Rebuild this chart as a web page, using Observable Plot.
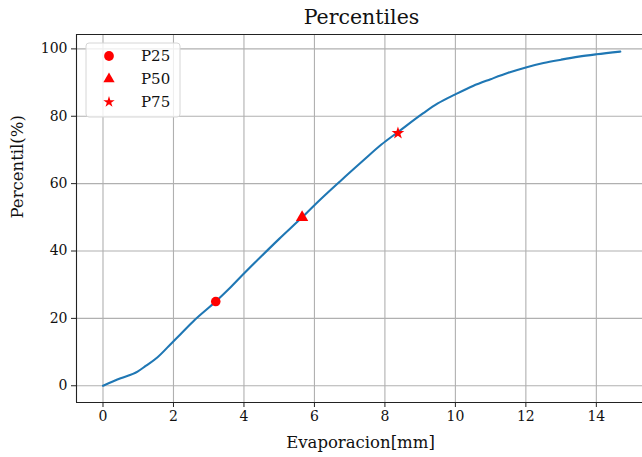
<!DOCTYPE html>
<html>
<head>
<meta charset="utf-8">
<script src="https://cdn.jsdelivr.net/npm/d3@7"></script>
<script src="https://cdn.jsdelivr.net/npm/@observablehq/plot@0.6"></script>
<style>
  html, body { margin: 0; padding: 0; background: #fff; }
  #chart svg { display: block; }
</style>
</head>
<body>
<div id="chart"></div>
<script>
// Cumulative curve
const evap = [0, 0.5, 0.98, 1.2, 1.54, 1.96, 2.2, 2.6, 3.2, 3.6, 4.0, 4.5, 5.0, 5.65, 6.0, 6.74, 7.4, 7.9, 8.37, 9.1, 9.5, 10.0, 10.5, 11.0, 11.5, 12.0, 12.5, 13.0, 13.5, 14.0, 14.68];
const pct  = [0, 2.2, 4.2, 5.8, 8.4, 12.8, 15.3, 19.5, 25, 29.0, 33.3, 38.5, 43.6, 50, 53.6, 60.8, 67, 71.6, 75.3, 81, 83.8, 86.5, 89.0, 91.0, 92.9, 94.5, 95.8, 96.8, 97.7, 98.4, 99.2];

// Percentile markers
const pNames  = ["P25", "P50", "P75"];
const pX      = [3.2, 5.65, 8.37];
const pY      = [25, 50, 75];
const pSymbol = ["circle", "triangle", "star"];

// Axes
const xTicks = [0, 2, 4, 6, 8, 10, 12, 14];
const yTicks = [0, 20, 40, 60, 80, 100];
const xDomain = [-0.752, 15.31];
const yDomain = [-4.97, 104.27];

const curve = evap.map((x, i) => ({x, y: pct[i]}));
const marks = pNames.map((name, i) => ({name, x: pX[i], y: pY[i], symbol: pSymbol[i]}));
const symR = {circle: 4.8, triangle: 4.6, star: 4.0};

const FONT = "DejaVu Serif";
const fs = 14;

const chart = Plot.plot({
  width: 642,
  height: 457,
  marginLeft: 76,
  marginRight: 0,
  marginTop: 34,
  marginBottom: 55,
  style: {fontFamily: FONT, fontSize: fs + "px", color: "#111", background: "#fff"},
  x: {domain: xDomain, ticks: xTicks},
  y: {domain: yDomain, ticks: yTicks},
  symbol: {domain: pSymbol, range: pSymbol},
  r: {type: "identity"},
  marks: [
    Plot.gridX(xTicks, {stroke: "#b0b0b0", strokeOpacity: 1, strokeWidth: 1.1}),
    Plot.gridY(yTicks, {stroke: "#b0b0b0", strokeOpacity: 1, strokeWidth: 1.1}),
    Plot.ruleX([xDomain[0]], {stroke: "#222", strokeWidth: 1.1}),
    Plot.ruleY([yDomain[0], yDomain[1]], {stroke: "#222", strokeWidth: 1.1}),
    Plot.axisX(xTicks, {tickSize: 5, tickPadding: 4, fontSize: fs, label: null, stroke: "#222"}),
    Plot.axisY(yTicks, {tickSize: 5, tickPadding: 4, fontSize: fs, label: null, stroke: "#222"}),
    Plot.line(curve, {x: "x", y: "y", stroke: "#1f77b4", strokeWidth: 2.1, curve: "monotone-x"}),
    Plot.dot(marks, {x: "x", y: "y", symbol: "symbol", r: d => symR[d.symbol], fill: "red", stroke: "none"}),
    Plot.text(["Evaporacion[mm]"], {frameAnchor: "bottom", lineAnchor: "middle", dy: 40, dx: 1, fontSize: 16.5, fill: "#111"}),
    Plot.text(["Percentil(%)"], {frameAnchor: "left", dx: -59, rotate: -90, fontSize: 16.5, fill: "#111"}),
    Plot.text(["Percentiles"], {frameAnchor: "top", lineAnchor: "middle", dy: -17, dx: 2, fontSize: 20.5, fill: "#111"})
  ]
});

document.getElementById("chart").appendChild(chart);

// Legend (matplotlib-style box, upper left)
const svg = d3.select(chart);
const lg = svg.append("g").attr("transform", "translate(86,43)")
  .attr("font-family", FONT).attr("font-size", 15).attr("text-anchor", "start");
lg.append("rect").attr("x", 0).attr("y", 0).attr("width", 94).attr("height", 74).attr("rx", 3)
  .attr("fill", "#fff").attr("fill-opacity", 0.8).attr("stroke", "#d6d6d6");
const symMap = {circle: d3.symbolCircle, triangle: d3.symbolTriangle, star: d3.symbolStar};
const symSize = {circle: 75, triangle: 55, star: 40};
marks.forEach((m, i) => {
  const cy = 13 + i * 23;
  lg.append("path").attr("transform", `translate(23,${cy})`)
    .attr("d", d3.symbol(symMap[m.symbol], symSize[m.symbol])()).attr("fill", "red");
  lg.append("text").attr("x", 55).attr("y", cy).attr("dy", "0.35em").attr("fill", "#111")
    .attr("text-anchor", "start").text(m.name);
});
</script>
</body>
</html>
